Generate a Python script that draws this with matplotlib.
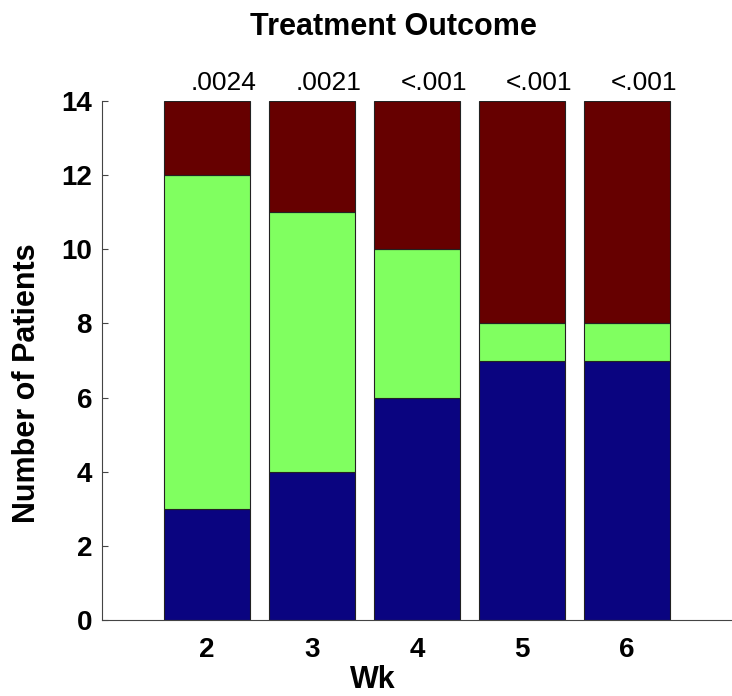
import numpy as np
import matplotlib
matplotlib.use("Agg")
import matplotlib.pyplot as plt

plt.rcParams['font.family'] = ['Liberation Sans', 'DejaVu Sans']

weeks = [2, 3, 4, 5, 6]
blue_vals = [3, 4, 6, 7, 7]
green_vals = [9, 7, 4, 1, 1]
red_vals = [2, 3, 4, 6, 6]
p_labels = ['.0024', '.0021', '<.001', '<.001', '<.001']

fig = plt.figure(figsize=(7.32, 6.96), dpi=100)
ax = fig.add_axes([0.139, 0.109, 0.861, 0.746])

w = 0.82
blue = np.array(blue_vals)
green = np.array(green_vals)
red = np.array(red_vals)
ax.bar(weeks, blue, width=w, color='#0a0480', edgecolor='#222222', linewidth=0.8)
ax.bar(weeks, green, width=w, bottom=blue, color='#80ff60', edgecolor='#222222', linewidth=0.8)
ax.bar(weeks, red, width=w, bottom=blue + green, color='#660000', edgecolor='#222222', linewidth=0.8)

# p-values above each bar, slightly right of centre
for wk, p in zip(weeks, p_labels):
    ax.text(wk + 0.16, 14.3, p, ha='center', va='baseline', fontsize=19)

ax.set_xlim(1, 7)
ax.set_ylim(0, 14)
ax.set_yticks(range(0, 15, 2))
ax.set_xticks(weeks)
ax.spines['top'].set_visible(False)
ax.spines['right'].set_visible(False)
ax.spines['left'].set_color('#444444')
ax.spines['bottom'].set_color('#444444')
ax.tick_params(axis='both', direction='in', length=4, color='#444444', labelsize=20)
ax.tick_params(axis='y', pad=7)
ax.tick_params(axis='x', length=0, pad=12)
for lab in ax.get_xticklabels() + ax.get_yticklabels():
    lab.set_fontweight('bold')

ax.set_xlabel('Wk', fontsize=22, fontweight='bold')
ax.xaxis.set_label_coords(0.43, -0.116)
ax.xaxis.label.set_va('center')
ax.set_ylabel('Number of Patients', fontsize=22, fontweight='bold')
ax.yaxis.set_label_coords(-0.118, 0.457)
ax.yaxis.label.set_va('center')
fig.text(393 / 732, 1 - 27 / 696, 'Treatment Outcome', ha='center', va='center',
         fontsize=22, fontweight='bold')

fig.savefig('out.png', dpi=100)
